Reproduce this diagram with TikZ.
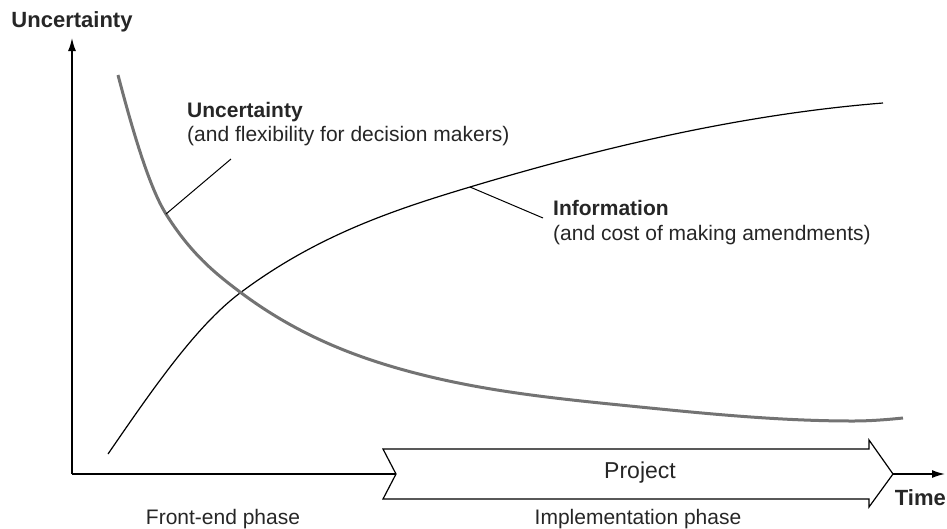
\documentclass[tikz,border=0pt]{standalone}
\usepackage{fontspec}
\setmainfont{Liberation Sans}
\usetikzlibrary{arrows.meta}
\begin{document}
\begin{tikzpicture}[x=1pt,y=-1pt,
  lbl/.style={font=\fontsize{21}{25}\selectfont, text=black!85, inner sep=0pt},
  bold/.style={lbl, font=\fontsize{21}{25}\selectfont\bfseries},
  axis/.style={line width=1.6pt, -{Latex[length=13pt,width=8pt]}},
  unc/.style={line width=3pt, black!55},
  info/.style={line width=1.2pt, black},
  leader/.style={line width=1pt, black}]
\useasboundingbox (0,0) rectangle (947,528);
% axes
\coordinate (O) at (72,474);
\coordinate (ytop) at (72,38);
\coordinate (pl) at (396,474);
\coordinate (pr) at (893,474);
\coordinate (xend) at (945,474);
\draw[line width=1.6pt] (pl) -- (O);
\draw[axis] (O) -- (ytop);
\draw[axis] (pr) -- (xend);
\node[bold, font=\fontsize{22}{26}\selectfont\bfseries] (ylab) at (72,22) {Uncertainty};
\node[bold, font=\fontsize{22}{26}\selectfont\bfseries, anchor=base east] (xlab) at (946,505) {Time};
% project arrow
\draw[line width=1.2pt, fill=white] (383,449) -- (869,449) -- (869,440) -- (pr) -- (869,507) -- (869,499) -- (383,499) -- (pl) -- cycle;
\node[lbl, font=\fontsize{23}{27}\selectfont] (proj) at (640,473) {Project};
\node[lbl] (fe) at (223,519) {Front-end phase};
\node[lbl] (impl) at (638,519) {Implementation phase};
% curves
\draw[info] (108,454) .. controls (152,390) and (196,326) .. (240,293)
  .. controls (316.7,235.5) and (393.3,210) .. (470,187)
  .. controls (607.7,145.7) and (745.3,114) .. (883,103);
\draw[unc] (118,75) .. controls (134,136) and (150,188.4) .. (166,214)
  .. controls (190.7,253.5) and (215.3,273.5) .. (240,292)
  .. controls (290,329.5) and (340,351) .. (390,366)
  .. controls (466.7,389) and (543.3,397.3) .. (620,405)
  .. controls (697.7,412.8) and (775.3,421) .. (853,421)
  .. controls (869.7,421) and (886.3,419.7) .. (903,418);
% labels and leaders
\coordinate (uc) at (166,214);
\coordinate (ic) at (470,187);
\node[bold, anchor=north west] (ut) at (187,102) {Uncertainty};
\node[lbl, anchor=north west] (us) at (187,126) {(and flexibility for decision makers)};
\node[bold, anchor=north west] (it) at (553,200) {Information};
\node[lbl, anchor=north west] (is) at (553,225) {(and cost of making amendments)};
\coordinate (ue) at (231,159);
\coordinate (ie) at (543,218);
\draw[leader] (uc) -- (ue);
\draw[leader] (ic) -- (ie);
\end{tikzpicture}
\end{document}
